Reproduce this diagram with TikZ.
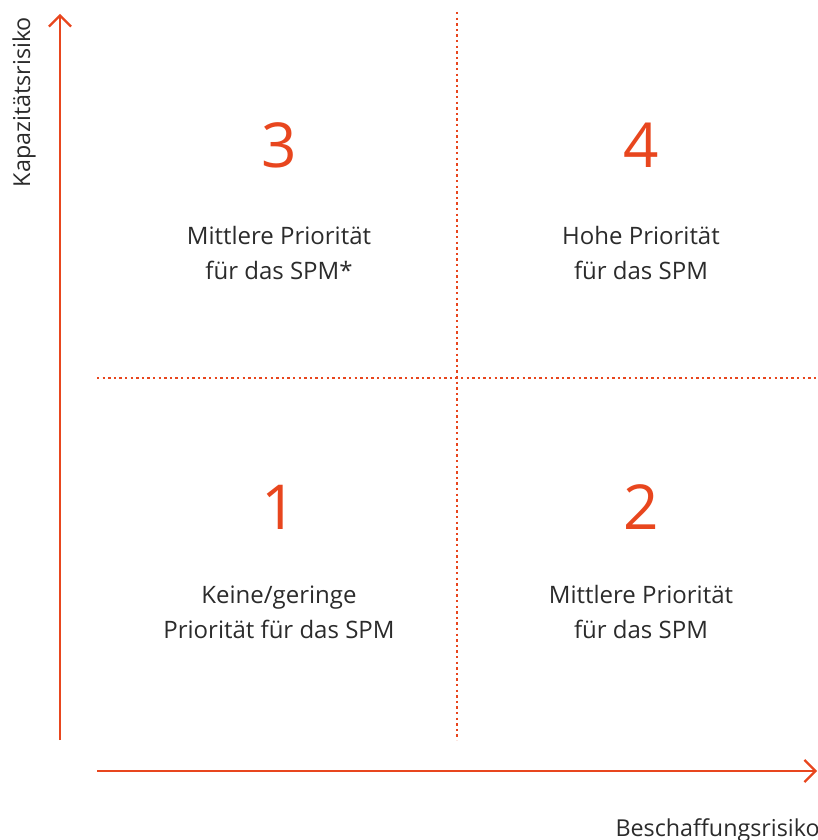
\documentclass[tikz,border=0pt]{standalone}
\usepackage{fontspec}
\setmainfont{Open Sans}
\usetikzlibrary{arrows.meta}
\definecolor{accent}{HTML}{E8461E}
\definecolor{txt}{HTML}{2B2B2B}
\begin{document}
\begin{tikzpicture}[x=1pt,y=-1pt,
  axis/.style={draw=accent,line width=2.2pt,-{Straight Barb[length=11pt,width=22pt,line width=2.2pt]}},
  divider/.style={draw=accent,line width=2.4pt,dash pattern=on 2.4pt off 3.2pt},
  bignum/.style={text=accent,font=\fontsize{62}{62}\selectfont,anchor=base},
  label/.style={text=txt,font=\fontsize{24}{35}\selectfont,align=center,anchor=base},
  axlabel/.style={text=txt,font=\fontsize{23.3}{24}\selectfont}]
\useasboundingbox (0,0) rectangle (818,840);
% axes
\coordinate (yb) at (60,740);
\coordinate (yt) at (60,14);
\coordinate (xl) at (97,771);
\coordinate (xr) at (817,771);
\draw[axis] (yb) -- (yt);
\draw[axis] (xl) -- (xr);
% dividers
\coordinate (vt) at (457,12);
\coordinate (vb) at (457,740);
\coordinate (hl) at (97,378);
\coordinate (hr) at (818,378);
\draw[divider] (vt) -- (vb);
\draw[divider] (hl) -- (hr);
% numbers
\node[bignum] (n3) at (279,167) {3};
\node[bignum] (n4) at (641,167) {4};
\node[bignum] (n1) at (279,529) {1};
\node[bignum] (n2) at (641,529) {2};
% labels
\node[label] (l3) at (279,279) {Mittlere Priorität\\für das SPM*};
\node[label] (l4) at (641,279) {Hohe Priorität\\für das SPM};
\node[label] (l1) at (279,638) {Keine/geringe\\Priorität für das SPM};
\node[label] (l2) at (641,638) {Mittlere Priorität\\für das SPM};
% axis labels
\node[axlabel,rotate=90,anchor=base] (ay) at (30,102) {Kapazitätsrisiko};
\node[axlabel,anchor=base west] (ax) at (612,836) {Beschaffungsrisiko};
\end{tikzpicture}
\end{document}
